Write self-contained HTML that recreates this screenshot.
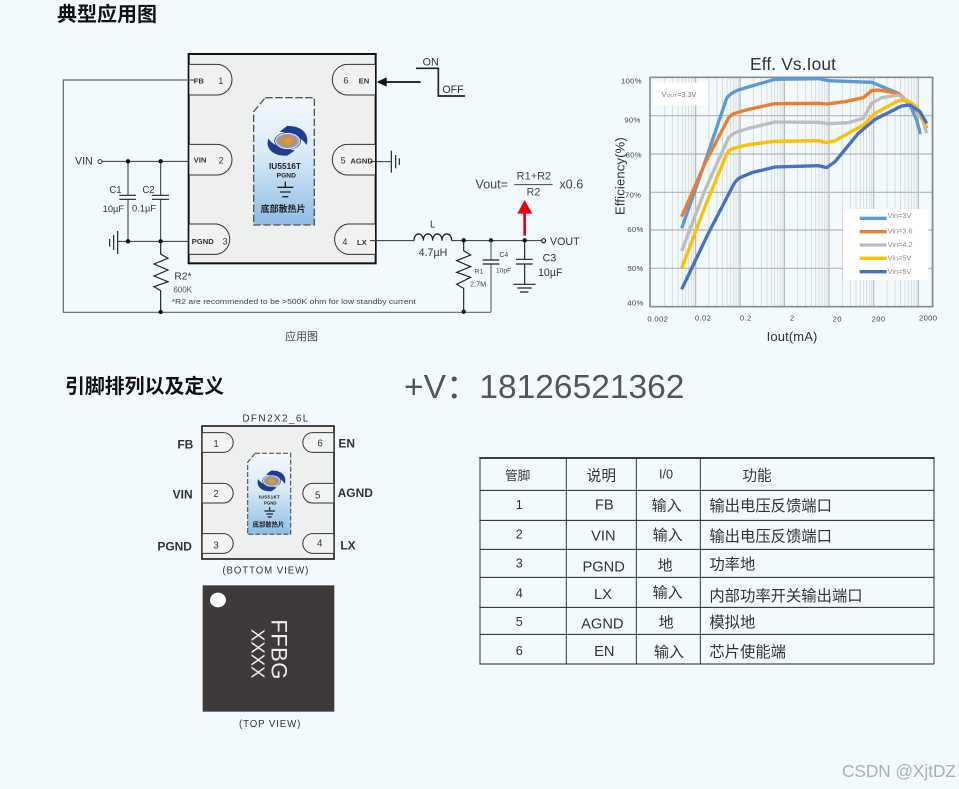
<!DOCTYPE html>
<html><head><meta charset="utf-8"><style>
html,body{margin:0;padding:0;background:#f3fafd}
svg{display:block}
text{font-family:"Liberation Sans","Noto Sans CJK SC",sans-serif;fill:#333}
.b{font-weight:bold}
.w{fill:none;stroke:#333;stroke-width:3}
.g{fill:none;stroke:#666;stroke-width:3.5}
.k{fill:none;stroke:#222;stroke-width:3.5}
.c{fill:none;stroke-width:10;stroke-linejoin:round;stroke-linecap:butt}
</style></head><body>
<svg width="959" height="789" viewBox="0 0 959 789" xmlns="http://www.w3.org/2000/svg">
<defs>
<linearGradient id="pad" x1="0" y1="0" x2="0" y2="1"><stop offset="0" stop-color="#f4f9fd"/><stop offset=".45" stop-color="#d9e9f7"/><stop offset="1" stop-color="#8dbce6"/></linearGradient>
<radialGradient id="lg"><stop offset="0" stop-color="#e8a25a"/><stop offset=".6" stop-color="#a9926f"/><stop offset="1" stop-color="#9aa6bd"/></radialGradient>
<g id="dec" stroke="#d4d6d7" stroke-width="2.5"><path d="M40 80V770M64 80V770M81 80V770M94 80V770M104 80V770M113 80V770M121 80V770M128 80V770"/></g>
<g id="logo">
<path d="M-2 -45C45 -47 66 -18 57 12C46 -3 30 -20 -24 -28Z" fill="#1e3d92"/>
<path d="M-1 44C-45 46 -68 22 -58 -8C-48 7 -32 20 22 28Z" fill="#1e3d92"/>
<ellipse cx="0" cy="0" rx="40" ry="26" fill="#1e3d92"/>
<ellipse cx="0" cy="0" rx="36" ry="23" fill="url(#lg)" stroke="#dfe6f0" stroke-width="3"/>
</g>
</defs>
<rect width="959" height="789" fill="#f3fafd"/>

<text x="57" y="21" font-size="20" class="b" style="fill:#111">典型应用图</text>
<text x="65" y="393" font-size="19.9" class="b" style="fill:#111">引脚排列以及定义</text>
<text x="404" y="398" font-size="33.5" style="fill:#555">+V：18126521362</text>
<text x="285" y="340" font-size="11" style="fill:#444">应用图</text>
<text x="842" y="777" font-size="17.2" style="fill:#aab0b3">CSDN @XjtDZ</text>

<!-- main schematic left -->
<g transform="translate(50,40) scale(.33333)">
<rect x="416" y="42" width="561" height="628" fill="#eeefef" stroke="#111" stroke-width="6"/>
<path d="M418 73H500A46 46 0 0 1 500 165H418" fill="#f0f2f2" stroke="#333" stroke-width="3"/>
<path d="M418 313H500A46 46 0 0 1 500 405H418" fill="#f0f2f2" stroke="#333" stroke-width="3"/>
<path d="M418 552H500A46 46 0 0 1 500 643H418" fill="#f0f2f2" stroke="#333" stroke-width="3"/>
<path d="M975 73H893A46 46 0 0 0 893 165H975" fill="#f0f2f2" stroke="#333" stroke-width="3"/>
<path d="M975 313H893A46 46 0 0 0 893 405H975" fill="#f0f2f2" stroke="#333" stroke-width="3"/>
<path d="M975 552H893A46 46 0 0 0 893 643H975" fill="#f0f2f2" stroke="#333" stroke-width="3"/>
<path d="M646 173H793V555H611V215Z" fill="url(#pad)" stroke="#555" stroke-width="4" stroke-dasharray="22 8"/>
<use href="#logo" transform="translate(713,303)"/>
<text x="689" y="311" font-size="23" class="b" font-style="italic" style="fill:#f08a10">IXU</text>
<text x="657" y="387" font-size="25" class="b" style="fill:#222">IU5516T</text>
<text x="680" y="412" font-size="20" class="b" style="fill:#222">PGND</text>
<path d="M706 425V442M682 442H730M690 456H722M697 470H715" stroke="#222" stroke-width="4" fill="none"/>
<text x="632" y="516" font-size="27" class="b" style="fill:#222">底部散热片</text>

<text x="431" y="130" font-size="23" class="b">FB</text><text x="505" y="132" font-size="27">1</text>
<text x="431" y="368" font-size="23" class="b">VIN</text><text x="506" y="371" font-size="27">2</text>
<text x="425" y="612" font-size="23" class="b">PGND</text><text x="518" y="614" font-size="27">3</text>
<text x="880" y="130" font-size="27">6</text><text x="926" y="130" font-size="23" class="b">EN</text>
<text x="872" y="370" font-size="27">5</text><text x="901" y="370" font-size="23" class="b">AGND</text>
<text x="877" y="615" font-size="27">4</text><text x="921" y="615" font-size="23" class="b">LX</text>

<path d="M432 120H40V817H1323" class="g"/>
<path d="M156 364H415M332 364V466M234 364V466M234 478V604M332 478V604M203 604H415" class="w"/>
<circle cx="150" cy="365" r="6" fill="none" stroke="#333" stroke-width="3"/>
<path d="M208 466H258M208 478H258M306 466H357M306 478H357" class="k"/>
<path d="M203 573V642M191 585V630M179 597V620" class="k"/>
<path d="M332 604V642L354 655 312 672 354 690 312 708 354 725 312 740 332 752V817" class="k"/>
<g fill="#111"><circle cx="234" cy="364" r="6.5"/><circle cx="332" cy="364" r="6.5"/><circle cx="234" cy="604" r="6.5"/><circle cx="332" cy="604" r="6.5"/><circle cx="332" cy="816" r="6.5"/></g>
<text x="75" y="374" font-size="32">VIN</text>
<text x="178" y="459" font-size="29">C1</text><text x="277" y="459" font-size="29">C2</text>
<text x="158" y="516" font-size="28">10µF</text><text x="246" y="514" font-size="28">0.1µF</text>
<text x="373" y="719" font-size="31">R2*</text><text x="370" y="757" font-size="24" style="fill:#555">600K</text>
<text x="365" y="792" font-size="22.5" textLength="732" lengthAdjust="spacingAndGlyphs" style="fill:#444">*R2 are recommended to be &gt;500K ohm for low standby current</text>
</g>

<!-- main schematic right -->
<g transform="translate(370,40) scale(.33333)">
<path d="M152 126H45" stroke="#111" stroke-width="5" fill="none"/>
<path d="M20 126L50 112V140Z" fill="#111"/>
<path d="M138 85H205V168H285" fill="none" stroke="#222" stroke-width="5"/>
<text x="158" y="76" font-size="32">ON</text><text x="217" y="159" font-size="32">OFF</text>
<path d="M0 365H64" class="w"/>
<path d="M64 332V398M77 345V385M88 355V375" class="k"/>
<path d="M0 602H132M245 602H515" class="w"/>
<path d="M132 602C132 575 160 575 160 602C160 575 188 575 188 602C188 575 216 575 216 602C216 575 245 575 245 602" fill="none" stroke="#222" stroke-width="4"/>
<circle cx="521" cy="602" r="6" fill="none" stroke="#222" stroke-width="3.5"/>
<text x="540" y="615" font-size="32">VOUT</text>
<g fill="#111"><circle cx="281" cy="601" r="6.5"/><circle cx="363" cy="601" r="6.5"/><circle cx="464" cy="601" r="6.5"/><circle cx="281" cy="815" r="6.5"/></g>
<path d="M281 601V632L302 645 260 662 302 680 260 697 302 712 260 733 281 745V816" class="k"/>
<path d="M363 601V660M363 672V816" class="g"/>
<path d="M338 660H388M338 672H388M438 658H488M438 672H488" class="k"/>
<path d="M464 601V658M464 672V733M430 733H497M442 744H485M450 756H475" class="k"/>
<text x="180" y="562" font-size="29">L</text><text x="146" y="648" font-size="32">4.7µH</text>
<text x="314" y="700" font-size="20" style="fill:#444">R1</text><text x="300" y="739" font-size="22" style="fill:#444">2.7M</text>
<text x="388" y="651" font-size="21" style="fill:#444">C4</text><text x="378" y="698" font-size="20" style="fill:#444">10pF</text>
<text x="518" y="665" font-size="32">C3</text><text x="504" y="708" font-size="32">10µF</text>
<text x="316" y="445" font-size="38" style="fill:#444">Vout=</text>
<text x="440" y="419" font-size="33" style="fill:#444">R1+R2</text>
<path d="M433 434H548" stroke="#444" stroke-width="3"/>
<text x="470" y="466" font-size="32" style="fill:#444">R2</text>
<text x="568" y="446" font-size="38" style="fill:#444">x0.6</text>
<path d="M464 480L442 521H460V587H468V521H487Z" fill="#e60012"/>
</g>

<!-- chart -->
<g transform="translate(605,50) scale(.33333)">
<use href="#dec" x="138"/><use href="#dec" x="272"/><use href="#dec" x="405"/><use href="#dec" x="538"/><use href="#dec" x="672"/><use href="#dec" x="806"/>
<path d="M980 80V770" stroke="#d4d6d7" stroke-width="2.5"/>
<path d="M272 82V770M405 82V770M538 82V770M672 82V770M806 82V770M940 82V770M135 197H983M135 312H983M135 427H983M135 540H983M135 655H983" stroke="#b2b4b5" stroke-width="3.5" fill="none"/>
<rect x="135" y="82" width="848" height="688" fill="none" stroke="#8b8d8e" stroke-width="5"/>
<rect x="145" y="98" width="162" height="69" fill="#fff"/>
<text x="170" y="141" font-size="22" style="fill:#777">V<tspan font-size="15">OUT</tspan>=3.3V</text>
<path class="c" stroke="#5b9bd5" d="M230 535L290 365 365 145Q375 130 400 120L440 108 510 88 640 86 670 92 800 97 880 130 915 165 935 210 946 252"/>
<path class="c" stroke="#ed7d31" d="M230 500L300 340 370 205Q378 195 390 190L430 178 510 161 640 160 665 162 720 155 775 143 800 122 820 120 880 130 920 165 945 195 965 235"/>
<path class="c" stroke="#bdbdbd" d="M230 603L300 420 370 265Q378 255 390 248L430 235 510 216 640 217 670 221 730 218 775 205 800 160 830 143 880 135 920 160 950 200 965 250"/>
<path class="c" stroke="#ffc000" d="M230 655L300 470 365 312Q372 300 385 295L430 284 510 274 640 272 665 278 690 272 775 225 810 190 880 152 905 152 935 170 965 230"/>
<path class="c" stroke="#4472c4" d="M230 718L310 550 385 405Q393 390 405 383L440 368 510 351 640 347 665 353 690 335 760 250 810 208 890 168 915 165 945 185 965 220"/>
<rect x="714" y="477" width="256" height="213" fill="#fff"/>
<g class="c" style="stroke-width:10"><path stroke="#5b9bd5" d="M764 505H845"/><path stroke="#ed7d31" d="M764 545H845"/><path stroke="#bdbdbd" d="M764 585H845"/><path stroke="#ffc000" d="M764 625H845"/><path stroke="#4472c4" d="M764 665H845"/></g>
<g font-size="22"><text x="848" y="504" style="fill:#888">Vin=3V</text><text x="848" y="551" style="fill:#888">Vin=3.6</text><text x="848" y="591" style="fill:#888">Vin=4.2</text><text x="848" y="632" style="fill:#888">Vin=5V</text><text x="848" y="672" style="fill:#888">Vin=5V</text></g>
<g font-size="23" style="letter-spacing:1px"><text x="48" y="100" style="fill:#444">100%</text><text x="58" y="218" style="fill:#444">90%</text><text x="62" y="322" style="fill:#444">80%</text><text x="60" y="442" style="fill:#444">70%</text><text x="67" y="546" style="fill:#444">60%</text><text x="67" y="663" style="fill:#444">50%</text><text x="67" y="767" style="fill:#444">40%</text>
<text x="127" y="814" style="fill:#444">0.002</text><text x="270" y="812" style="fill:#444">0.02</text><text x="405" y="812" style="fill:#444">0.2</text><text x="555" y="812" style="fill:#444">2</text><text x="683" y="815" style="fill:#444">20</text><text x="800" y="815" style="fill:#444">200</text><text x="942" y="812" style="fill:#444">2000</text></g>
<text x="435" y="60" font-size="52" textLength="258">Eff. Vs.Iout</text>
<text transform="translate(58,495) rotate(-90)" font-size="39" textLength="233">Efficiency(%)</text>
<text x="485" y="873" font-size="39" textLength="152">Iout(mA)</text>
</g>

<!-- pinout -->
<g transform="translate(150,405) scale(.33333)">
<rect x="156" y="63" width="396" height="399" fill="#eeefef" stroke="#222" stroke-width="5"/>
<path d="M158 83H220A29 29 0 0 1 220 142H158" fill="#f2f4f4" stroke="#333" stroke-width="3"/>
<path d="M158 235H220A29 29 0 0 1 220 294H158" fill="#f2f4f4" stroke="#333" stroke-width="3"/>
<path d="M158 386H220A29 29 0 0 1 220 445H158" fill="#f2f4f4" stroke="#333" stroke-width="3"/>
<path d="M550 83H488A29 29 0 0 0 488 142H550" fill="#f2f4f4" stroke="#333" stroke-width="3"/>
<path d="M550 235H488A29 29 0 0 0 488 294H550" fill="#f2f4f4" stroke="#333" stroke-width="3"/>
<path d="M550 386H488A29 29 0 0 0 488 445H550" fill="#f2f4f4" stroke="#333" stroke-width="3"/>
<path d="M315 145H422V388H293V172Z" fill="url(#pad)" stroke="#555" stroke-width="3.5" stroke-dasharray="15 6"/>
<use href="#logo" transform="translate(365,228) scale(.7)"/>
<text x="326" y="281" font-size="15" class="b" style="fill:#222;letter-spacing:1px">IU5516T</text>
<text x="342" y="298" font-size="13" class="b" style="fill:#222">PGND</text>
<path d="M359 306V318M343 318H375M349 327H369M353 336H365" stroke="#222" stroke-width="3.5" fill="none"/>
<text x="308" y="364" font-size="19" class="b" style="fill:#222">底部散热片</text>
<text x="190" y="126" font-size="29">1</text><text x="190" y="276" font-size="29">2</text><text x="190" y="431" font-size="29">3</text>
<text x="502" y="124" font-size="29">6</text><text x="495" y="280" font-size="29">5</text><text x="501" y="424" font-size="29">4</text>
<text x="82" y="130" class="b" font-size="36">FB</text><text x="68" y="281" class="b" font-size="36">VIN</text><text x="22" y="436" class="b" font-size="36">PGND</text><text x="565" y="128" class="b" font-size="36">EN</text><text x="563" y="276" class="b" font-size="36">AGND</text><text x="571" y="434" class="b" font-size="36">LX</text>
<text x="277" y="50" font-size="30" textLength="198">DFN2X2_6L</text>
<text x="217" y="505" font-size="29" textLength="258">(BOTTOM VIEW)</text>
<rect x="158" y="541" width="395" height="379" fill="#3e3a39"/>
<ellipse cx="204" cy="585" rx="24" ry="22" fill="#fff"/>
<text transform="translate(365,643) rotate(90)" font-size="66" textLength="180" style="fill:#eee">FFBG</text>
<text transform="translate(305,672) rotate(90)" font-size="55" textLength="148" style="fill:#eee">XXXX</text>
<text x="267" y="966" font-size="29" textLength="184">(TOP VIEW)</text>
</g>

<!-- table -->
<g transform="translate(470,450) scale(.33333)">
<path d="M28 24H1394" stroke="#222" stroke-width="5"/>
<path d="M30 24V642M289 24V642M499 24V642M691 24V642M1392 24V642" stroke="#333" stroke-width="3" fill="none"/>
<path d="M30 121H1392M28 211H1392M30 298H1392M30 382H1392M28 472H1392M30 553H1392M28 642H1392" stroke="#222" stroke-width="3" fill="none"/>
<text x="105" y="90" font-size="38">管脚</text><text x="350" y="92" font-size="44">说明</text><text x="567" y="85" font-size="38">I/0</text><text x="817" y="92" font-size="44">功能</text>
<text x="148" y="177" font-size="38" text-anchor="middle">1</text><text x="148" y="265" font-size="38" text-anchor="middle">2</text><text x="148" y="352" font-size="38" text-anchor="middle">3</text><text x="148" y="442" font-size="38" text-anchor="middle">4</text><text x="148" y="528" font-size="38" text-anchor="middle">5</text><text x="148" y="615" font-size="38" text-anchor="middle">6</text>
<text x="403" y="178" font-size="44" text-anchor="middle">FB</text><text x="400" y="272" font-size="44" text-anchor="middle">VIN</text><text x="401" y="365" font-size="44" text-anchor="middle">PGND</text><text x="399" y="447" font-size="44" text-anchor="middle">LX</text><text x="397" y="535" font-size="44" text-anchor="middle">AGND</text><text x="403" y="618" font-size="44" text-anchor="middle">EN</text>
<text x="545" y="181" font-size="45">输入</text><text x="548" y="270" font-size="45">输入</text><text x="563" y="362" font-size="45">地</text><text x="548" y="443" font-size="45">输入</text><text x="566" y="533" font-size="45">地</text><text x="552" y="621" font-size="45">输入</text>
<text x="718" y="183" font-size="46">输出电压反馈端口</text><text x="718" y="274" font-size="46">输出电压反馈端口</text><text x="718" y="359" font-size="46">功率地</text><text x="718" y="453" font-size="46">内部功率开关输出端口</text><text x="718" y="533" font-size="46">模拟地</text><text x="718" y="621" font-size="46">芯片使能端</text>
</g>
</svg>
</body></html>
